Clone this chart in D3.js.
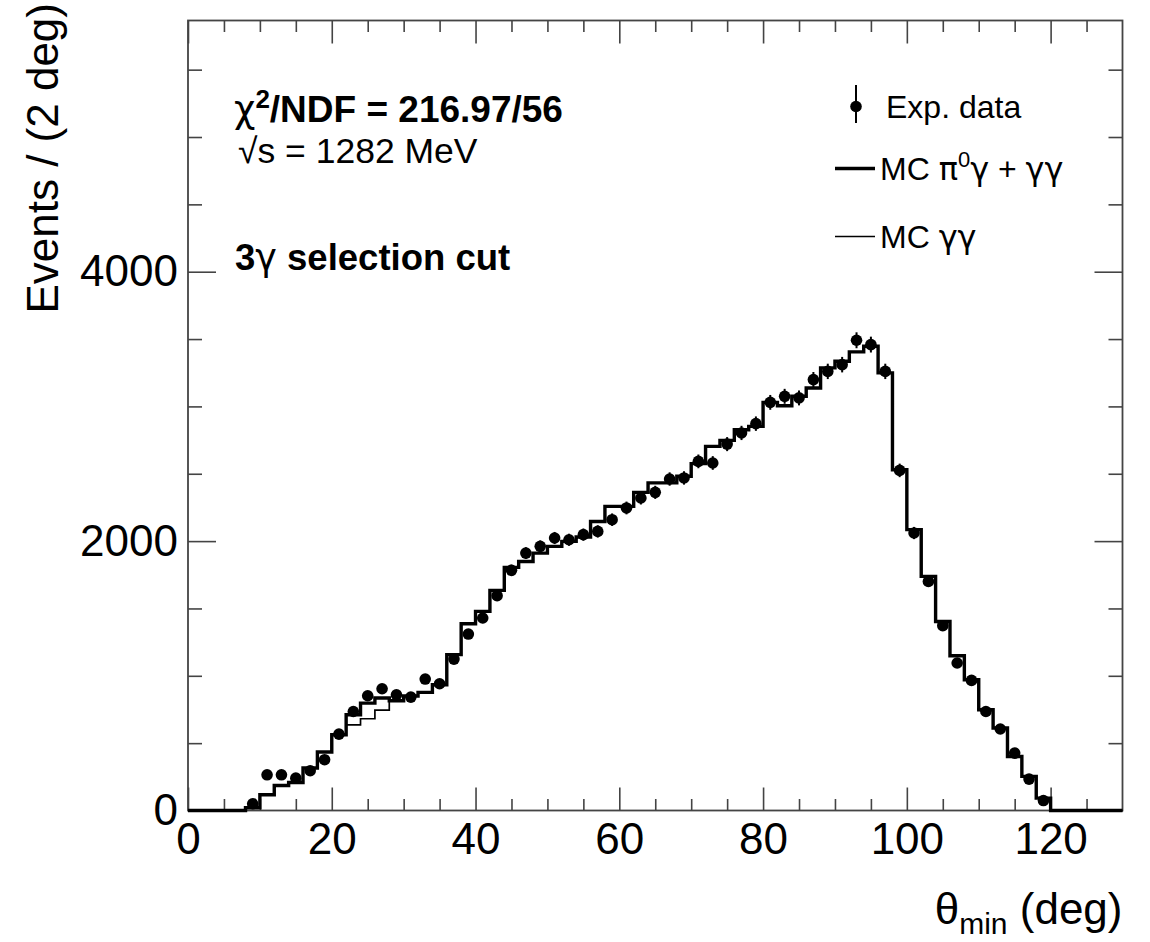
<!DOCTYPE html>
<html><head><meta charset="utf-8">
<script src="https://cdn.jsdelivr.net/npm/d3@7"></script>
<style>
body{margin:0;background:#fff}
svg{display:block}
text{font-family:"Liberation Sans",Arial,Helvetica,sans-serif;fill:#000}
</style>
</head><body>
<svg id="c" width="1150" height="942"></svg>
<script>
// ---- data ----
const binLow = [8,10,12,14,16,18,20,22,24,26,28,30,32,34,36,38,40,42,44,46,48,50,52,54,56,58,60,62,64,66,68,70,72,74,76,78,80,82,84,86,88,90,92,94,96,98,100,102,104,106,108,110,112,114,116,118];
const binWidth = 2;
const expData = [50,265,265,240,295,377,567,735,852,904,859,842,976,941,1124,1310,1429,1595,1783,1911,1961,2023,2010,2048,2072,2159,2246,2320,2362,2461,2469,2592,2580,2720,2803,2872,3030,3075,3063,3199,3260,3310,3491,3459,3260,2525,2060,1701,1372,1095,966,735,605,426,233,74];
const mcTotal = [20,117,186,208,315,434,562,711,797,835,815,850,877,934,1157,1387,1478,1634,1805,1849,1911,1961,1998,2030,2146,2258,2258,2362,2432,2432,2481,2575,2703,2748,2827,2852,3030,3005,3075,3137,3286,3335,3405,3447,3249,2530,2085,1738,1403,1149,971,748,612,401,253,92];
const mcGG = [20,117,186,208,315,434,562,636,681,745,815,850,877,934,1157,1387,1478,1634,1805,1849,1911,1961,1998,2030,2146,2258,2258,2362,2432,2432,2481,2575,2703,2748,2827,2852,3030,3005,3075,3137,3286,3335,3405,3447,3249,2530,2085,1738,1403,1149,971,748,612,401,253,92];
const xMajor = [0,20,40,60,80,100,120];
const xMinor = [5,10,15,25,30,35,45,50,55,65,70,75,85,90,95,105,110,115,125];
const yMajor = [0,2000,4000];
const yMinor = [500,1000,1500,2500,3000,3500,4500,5000,5500];
const xDomain = [0,130];
const yDomain = [0,5865];

// ---- layout ----
const L = 188, R = 1122.5, T = 20.5, B = 810.5;
const svg = d3.select("#c");
const x = d3.scaleLinear().domain(xDomain).range([L, R]);
const y = d3.scaleLinear().domain(yDomain).range([B, T]);
const FS = 44;
const GREEK = "'DejaVu Sans',sans-serif";

function histPoints(vals){
  const pts = [{e:xDomain[0], v:0}];
  binLow.forEach((lo,i)=>pts.push({e:lo, v:vals[i]}));
  pts.push({e:binLow[binLow.length-1]+binWidth, v:0});
  pts.push({e:xDomain[1], v:0});
  return pts;
}
const line = d3.line().x(d=>x(d.e)).y(d=>y(d.v)).curve(d3.curveStepAfter);

// axes (ticks inward)
const gAx = svg.append("g");
function styleAxis(g){
  g.select(".domain").remove();
  g.selectAll(".tick line").attr("stroke","#444").attr("stroke-width",1.6);
  g.selectAll(".tick text").style("font-size",FS+"px").attr("fill","#000");
}
gAx.append("g").attr("transform",`translate(0,${B})`)
  .call(d3.axisBottom(x).tickValues(xMajor).tickSizeInner(-23).tickSizeOuter(0).tickPadding(12).tickFormat(d3.format("d")))
  .call(styleAxis);
gAx.append("g").attr("transform",`translate(0,${B})`)
  .call(d3.axisBottom(x).tickValues(xMinor).tickSizeInner(-11.5).tickSizeOuter(0).tickFormat(""))
  .call(styleAxis);
gAx.append("g").attr("transform",`translate(0,${T})`)
  .call(d3.axisTop(x).tickValues(xMajor).tickSizeInner(-23).tickSizeOuter(0).tickFormat(""))
  .call(styleAxis);
gAx.append("g").attr("transform",`translate(0,${T})`)
  .call(d3.axisTop(x).tickValues(xMinor).tickSizeInner(-11.5).tickSizeOuter(0).tickFormat(""))
  .call(styleAxis);
gAx.append("g").attr("transform",`translate(${L},0)`)
  .call(d3.axisLeft(y).tickValues(yMajor).tickSizeInner(-28).tickSizeOuter(0).tickPadding(10).tickFormat(d3.format("d")))
  .call(styleAxis);
gAx.append("g").attr("transform",`translate(${L},0)`)
  .call(d3.axisLeft(y).tickValues(yMinor).tickSizeInner(-14).tickSizeOuter(0).tickFormat(""))
  .call(styleAxis);
gAx.append("g").attr("transform",`translate(${R},0)`)
  .call(d3.axisRight(y).tickValues(yMajor).tickSizeInner(-28).tickSizeOuter(0).tickFormat(""))
  .call(styleAxis);
gAx.append("g").attr("transform",`translate(${R},0)`)
  .call(d3.axisRight(y).tickValues(yMinor).tickSizeInner(-14).tickSizeOuter(0).tickFormat(""))
  .call(styleAxis);

// frame
svg.append("rect").attr("x",L).attr("y",T).attr("width",R-L).attr("height",B-T)
  .attr("fill","none").attr("stroke","#444").attr("stroke-width",1.8);

// histograms
svg.append("path").attr("d",line(histPoints(mcGG))).attr("fill","none").attr("stroke","#000").attr("stroke-width",1.7);
svg.append("path").attr("d",line(histPoints(mcTotal))).attr("fill","none").attr("stroke","#000").attr("stroke-width",3.4);

// data points
const pts = svg.append("g");
binLow.forEach((lo,i)=>{
  const cx = x(lo+binWidth/2), v = expData[i], err = Math.sqrt(v);
  pts.append("line").attr("x1",cx).attr("x2",cx).attr("y1",y(v-err)).attr("y2",y(v+err))
    .attr("stroke","#000").attr("stroke-width",2);
  pts.append("circle").attr("cx",cx).attr("cy",y(v)).attr("r",5.8).attr("fill","#000");
});

// axis titles
svg.append("text").attr("transform","translate(58,3) rotate(-90)").attr("text-anchor","end")
  .style("font-size",FS+"px").text("Events / (2 deg)");
const xt = svg.append("text").attr("x",R).attr("y",924).attr("text-anchor","end").style("font-size",FS+"px");
xt.append("tspan").text("θ");
xt.append("tspan").attr("dy",10).style("font-size","30px").text("min");
xt.append("tspan").attr("dy",-10).text(" (deg)");

// annotations
const t1 = svg.append("text").attr("x",234).attr("y",122).style("font-size","37px").style("font-weight","bold");
t1.append("tspan").style("font-weight","normal").style("font-family",GREEK).text("χ");
t1.append("tspan").attr("dy",-14).style("font-size","26px").text("2");
t1.append("tspan").attr("dy",14).text("/NDF = 216.97/56");
svg.append("text").attr("x",238).attr("y",163).style("font-size","35.5px").text("√s = 1282 MeV");
const t3 = svg.append("text").attr("x",235).attr("y",270).style("font-size","36.5px").style("font-weight","bold");
t3.append("tspan").text("3");
t3.append("tspan").style("font-weight","normal").style("font-family",GREEK).text("γ");
t3.append("tspan").text(" selection cut");

// legend
const LFS = "32px";
const lg = svg.append("g");
lg.append("line").attr("x1",856).attr("x2",856).attr("y1",85).attr("y2",123).attr("stroke","#000").attr("stroke-width",2);
lg.append("circle").attr("cx",856).attr("cy",106.5).attr("r",5.8).attr("fill","#000");
lg.append("text").attr("x",886).attr("y",118).style("font-size",LFS).text("Exp. data");
lg.append("line").attr("x1",835).attr("x2",875).attr("y1",168.5).attr("y2",168.5).attr("stroke","#000").attr("stroke-width",3.4);
const l2 = lg.append("text").attr("x",880).attr("y",180).style("font-size",LFS);
l2.append("tspan").text("MC ");
l2.append("tspan").style("font-family",GREEK).text("π");
l2.append("tspan").attr("dy",-13).style("font-size","22px").text("0");
l2.append("tspan").attr("dy",13).style("font-family",GREEK).text("γ");
l2.append("tspan").text(" + ");
l2.append("tspan").style("font-family",GREEK).text("γγ");
lg.append("line").attr("x1",835).attr("x2",875).attr("y1",236.5).attr("y2",236.5).attr("stroke","#000").attr("stroke-width",1.7);
const l3 = lg.append("text").attr("x",880).attr("y",248).style("font-size",LFS);
l3.append("tspan").text("MC ");
l3.append("tspan").style("font-family",GREEK).text("γγ");
</script>
</body></html>
